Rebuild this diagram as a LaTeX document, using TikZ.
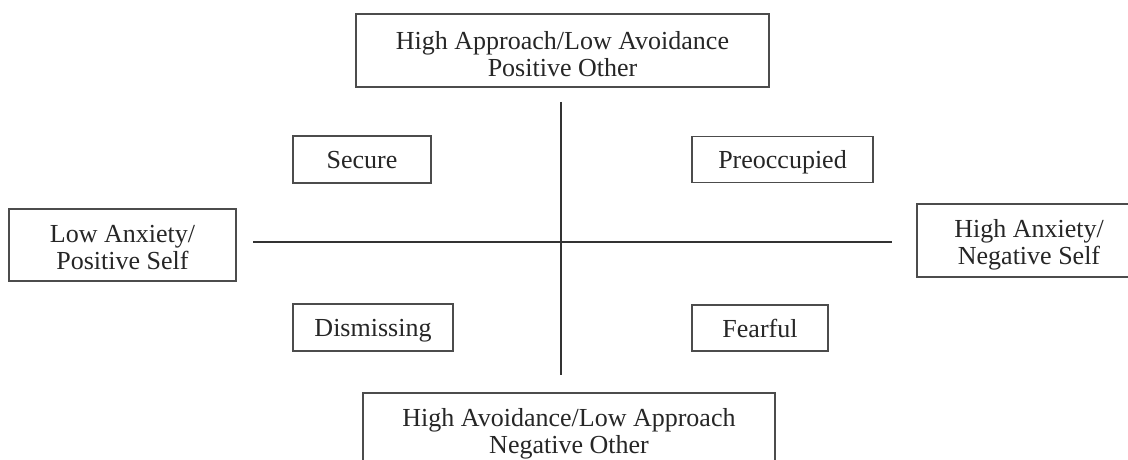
\documentclass[tikz,border=0pt]{standalone}
\usepackage{fontspec}
\setmainfont{Liberation Serif}
\newcommand\twoln[2]{\raisebox{#1}[0pt][0pt]{\begin{tabular}[b]{@{}c@{}}#2\end{tabular}}}
\begin{document}
\begin{tikzpicture}[x=1pt,y=-1pt,
  lbl/.style={draw=black!70,line width=1.4pt,inner sep=0pt,align=center,text=black!85,
    font=\fontsize{26}{27}\selectfont},
  one/.style={lbl,text height=23pt,text depth=5pt},
  axis/.style={draw=black!80,line width=2.2pt}]
\useasboundingbox[fill=white] (0,0) rectangle (1128,460);
\node[lbl,minimum width=413pt,minimum height=73pt] (top) at (562.5,50.5) {\twoln{-25.9pt}{High Approach/Low Avoidance\\Positive Other}};
\node[lbl,minimum width=412pt,minimum height=73pt] (bot) at (569,429.5) {\twoln{-23.9pt}{High Avoidance/Low Approach\\Negative Other}};
\node[lbl,minimum width=227pt,minimum height=72pt] (left) at (122.5,245) {\twoln{-24.4pt}{Low Anxiety/\\Positive Self}};
\node[lbl,minimum width=224pt,minimum height=73pt] (right) at (1029,240.5) {\twoln{-24.4pt}{High Anxiety/\\Negative Self}};
\node[one,minimum width=138pt,minimum height=47pt] (secure) at (362,159.5) {Secure};
\node[one,minimum width=181pt,minimum height=46pt] (preocc) at (782.5,159.5) {Preoccupied};
\node[one,minimum width=160pt,minimum height=47pt] (dismiss) at (373,327.5) {Dismissing};
\node[one,minimum width=136pt,minimum height=46pt] (fearful) at (760,328) {Fearful};
\coordinate (vt) at (561,102);
\coordinate (vb) at (561,375);
\coordinate (hl) at (253,242);
\coordinate (hr) at (892,242);
\draw[axis] (vt) -- (vb);
\draw[axis] (hl) -- (hr);
\end{tikzpicture}
\end{document}
